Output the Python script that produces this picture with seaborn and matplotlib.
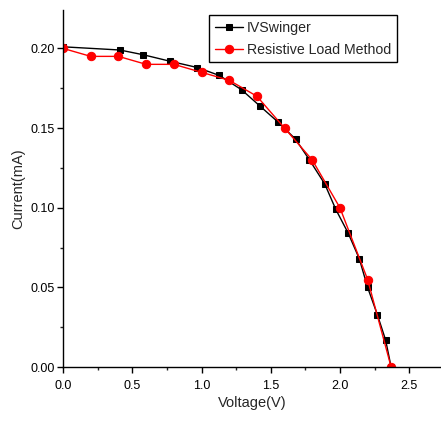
import matplotlib
matplotlib.use("Agg")
import matplotlib.pyplot as plt
import seaborn as sns
import pandas as pd
from matplotlib.ticker import MultipleLocator

# IVSwinger curve
iv_voltage = [0.0, 0.41, 0.58, 0.77, 0.97, 1.13, 1.29, 1.42, 1.55, 1.68,
              1.78, 1.89, 1.97, 2.06, 2.14, 2.20, 2.27, 2.33, 2.37]
iv_current = [0.201, 0.199, 0.196, 0.192, 0.188, 0.183, 0.174, 0.164, 0.154, 0.143,
              0.130, 0.115, 0.099, 0.084, 0.068, 0.050, 0.033, 0.017, 0.0]

# resistive load method
rl_voltage = [0.0, 0.2, 0.4, 0.6, 0.8, 1.0, 1.2, 1.4, 1.6, 1.8, 2.0, 2.2, 2.37]
rl_current = [0.200, 0.195, 0.195, 0.190, 0.190, 0.185, 0.180, 0.170, 0.150,
              0.130, 0.100, 0.055, 0.0]

sns.set_style("ticks")
plt.rcParams['font.family'] = ['Liberation Sans', 'DejaVu Sans']

fig = plt.figure(figsize=(4.41, 4.23), dpi=100)
ax = fig.add_axes([0.143, 0.132, 0.857, 0.844])

iv = pd.DataFrame({"v": iv_voltage, "i": iv_current})
rl = pd.DataFrame({"v": rl_voltage, "i": rl_current})

sns.lineplot(data=iv, x="v", y="i", ax=ax, color="black", marker="s",
             markersize=5, markeredgecolor="black", linewidth=1,
             label="IVSwinger", sort=False)
sns.lineplot(data=rl, x="v", y="i", ax=ax, color="red", marker="o",
             markersize=6, markeredgecolor="red", linewidth=1,
             label="Resistive Load Method", sort=False)

ax.set_xlim(0, 2.73)
ax.set_ylim(0, 0.224)
ax.xaxis.set_major_locator(MultipleLocator(0.5))
ax.xaxis.set_minor_locator(MultipleLocator(0.25))
ax.yaxis.set_major_locator(MultipleLocator(0.05))
ax.yaxis.set_minor_locator(MultipleLocator(0.025))
ax.xaxis.set_major_formatter(matplotlib.ticker.FormatStrFormatter('%.1f'))
ax.yaxis.set_major_formatter(matplotlib.ticker.FormatStrFormatter('%.2f'))

ax.tick_params(which="major", direction="out", length=4, width=1, labelsize=9,
               colors="black", pad=2)
ax.tick_params(axis="x", which="major", pad=5)
ax.tick_params(which="minor", direction="out", length=2.5, width=1)
for s in ["left", "bottom"]:
    ax.spines[s].set_color("black")
    ax.spines[s].set_linewidth(1)
sns.despine(ax=ax)

ax.set_xlabel("Voltage(V)", fontsize=10.5, labelpad=3)
ax.set_ylabel("Current(mA)", fontsize=10.5, labelpad=4)

leg = ax.legend(loc="upper left", bbox_to_anchor=(0.386, 0.986), fontsize=10.2,
                frameon=True, fancybox=False, edgecolor="black", framealpha=1,
                handlelength=2.0, borderpad=0.4, labelspacing=0.55,
                handletextpad=0.3, borderaxespad=0)
leg.get_frame().set_linewidth(1)

fig.savefig("out.png", dpi=100)
